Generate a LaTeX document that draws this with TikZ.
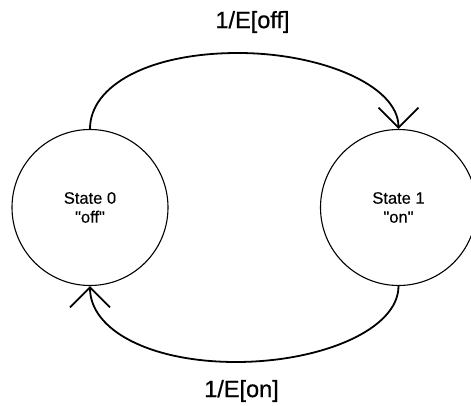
\documentclass[tikz,border=0pt]{standalone}
\usepackage{fontspec}
\setmainfont{Liberation Sans}[Ligatures=TeXOff]
\usetikzlibrary{arrows.meta}
\begin{document}
\begin{tikzpicture}[x=1pt,y=-1pt,
  statenode/.style={circle,draw,line width=1.1pt,minimum size=156pt,inner sep=0pt,
    align=center,font=\fontsize{16.5}{19}\selectfont\addfontfeatures{FakeBold=0.3}},
  trans/.style={line width=1.8pt,-{Straight Barb[length=20pt,width=40pt,line width=1.8pt]}},
  lbl/.style={font=\fontsize{23.5}{26}\selectfont\addfontfeatures{FakeBold=0.6},inner sep=0pt}]
\useasboundingbox (0,0) rectangle (471,406);
\node[statenode] (s0) at (90,207.5) {State 0\\"off"};
\node[statenode] (s1) at (398.5,207.5) {State 1\\"on"};
\draw[trans] (s0.north) .. controls (90,85) and (150,53) .. (238,53)
  .. controls (320,53) and (398.5,85) .. (s1.north);
\draw[trans] (s1.south) .. controls (398.5,330) and (320,362) .. (236,362)
  .. controls (150,362) and (90,330) .. (s0.south);
\node[lbl] (t1) at (252.5,22) {1/E[off]};
\node[lbl] (t2) at (241.5,391) {1/E[on]};
\end{tikzpicture}
\end{document}
